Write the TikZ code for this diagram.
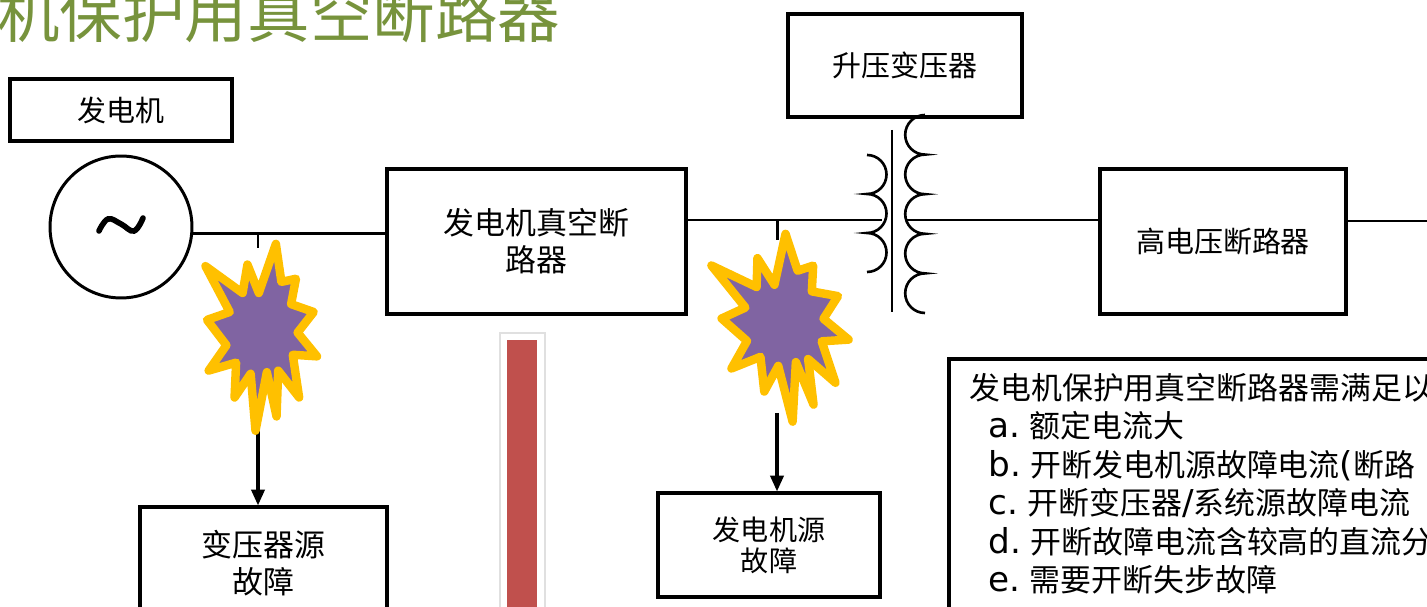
\documentclass[tikz,border=0pt]{standalone}
\usepackage{fontspec}
\setmainfont{DejaVu Sans}
\newfontfamily\cjk{Noto Sans CJK SC}
\newfontfamily\latinfont{DejaVu Sans}
\usetikzlibrary{arrows.meta}
\definecolor{titlegreen}{RGB}{119, 147, 60}
\definecolor{faultfill}{RGB}{128, 100, 162}
\definecolor{faultedge}{RGB}{255, 192, 0}
\definecolor{barred}{RGB}{192, 80, 77}
\newcommand{\lt}[1]{{\latinfont\fontsize{19.5}{21.9}\selectfont #1}}

\begin{document}
\begin{tikzpicture}[x=0.02cm, y=-0.02cm,
  box/.style={draw, line width=1.8pt, fill=white, inner sep=0pt, align=center, font=\cjk\fontsize{16.5}{21}\selectfont},
  bus/.style={line width=1.7pt},
  coil/.style={line width=1.5pt},
  arr/.style={line width=1.9pt, -{Triangle[length=9pt, width=7.5pt]}},
  fault/.style={fill=faultfill, draw=faultedge, line width=4.8pt, line join=round},
  burst/.pic={
    \draw[fault] (14.3,-91.7) -- (20,-51.7) -- (35,-55) -- (30,-28.3) -- (53.3,-20)
      -- (36.7,1.7) -- (56.7,26.7) -- (31.7,25) -- (38.3,70) -- (16.7,41.7) -- (15,90)
      -- (5,43.3) -- (-6.7,105) -- (-11.7,45) -- (-28.3,70) -- (-26.7,33.3) -- (-55,41.7)
      -- (-36.7,15) -- (-56.7,-11.7) -- (-33.3,-20) -- (-58.3,-68.3) -- (-20,-40)
      -- (-15,-70) -- (-3.3,-40) -- cycle;
  }]

  \useasboundingbox (0,0) rectangle (1427,607);
  \clip (0,0) rectangle (1427,607);

  % heading
  \node[anchor=base west, inner sep=0pt, text=titlegreen, font=\cjk\fontsize{35.6}{40}\selectfont] (title) at (-3,38) {机保护用真空断路器};

  % generator
  \node[box, minimum width=4.44cm, minimum height=1.24cm] (genlabel) at (121,110) {发电机};
  \node[circle, draw, line width=1.7pt, minimum size=2.84cm, inner sep=0pt] (gen) at (121,227) {};
  \draw[line width=3.2pt, line cap=round] plot[smooth, tension=0.7] coordinates {(99,231) (108,219) (121,224) (134,231) (143,218)};

  % breakers and step-up transformer
  \node[box, minimum width=5.98cm, minimum height=2.9cm, font=\cjk\fontsize{17.6}{21}\selectfont] (gcb) at (536.5,241.5) {发电机真空断\\路器};
  \node[box, minimum width=4.68cm, minimum height=2.06cm] (stepup) at (905,65.5) {升压变压器};
  \node[box, minimum width=4.92cm, minimum height=2.9cm] (hvcb) at (1223,241.5) {高电压断路器};

  % fault sources
  \node[box, minimum width=4.94cm, minimum height=2.24cm, font=\cjk\fontsize{17.6}{21}\selectfont] (tffault) at (263.5,563) {变压器源\\故障};
  \node[box, minimum width=4.44cm, minimum height=2.08cm, font=\cjk\fontsize{16}{17.6}\selectfont] (genfault) at (769,545) {发电机源\\故障};

  % bus
  \coordinate (prim) at (882,220);
  \coordinate (sec) at (905,220);
  \coordinate (feeder) at (1440,221);
  \draw[bus] (gen.-5) -- (gen.-5 -| gcb.west);
  \draw[bus] (gcb.east |- prim) -- (prim);
  \draw[bus] (sec) -- (sec -| hvcb.west);
  \draw[bus] (hvcb.east |- feeder) -- (feeder);

  % transformer windings
  \draw[coil] (867,155) arc(-90:90:19.5) arc(-90:90:19.5) arc(-90:90:19.5);
  \draw[coil] (892,130) -- (892,312);
  \draw[coil] (925,115) \foreach \k in {1,...,5}{ arc(-90:-270:19.8) };

  % fault taps
  \coordinate (tap1) at (258,233);
  \coordinate (f1) at (258,428);
  \coordinate (tap2) at (777,220);
  \coordinate (f2) at (777,413);
  \draw[bus] (tap1) -- ++(0,15);
  \draw[bus] (tap2) -- ++(0,20);
  \draw[arr] (f1) -- (f1 |- tffault.north);
  \draw[arr] (f2) -- (f2 |- genfault.north);

  \pic[xscale=0.97, yscale=0.95] (fault1) at (262,331) {burst};
  \pic[xscale=1.08, yscale=0.95, rotate=8] (fault2) at (784,322) {burst};

  % red bar
  \fill[white, draw=black!12, line width=1pt] (500,333) rectangle (545,620);
  \fill[barred] (507,340) rectangle (537,620);

  % requirements
  \draw[line width=1.8pt] (949,359) rectangle (1440,620);
  \node[anchor=north west, inner sep=0pt, align=left, font=\cjk\fontsize{17.6}{21.9}\selectfont] (req) at (969,373) {%
    发电机保护用真空断路器需满足以\\
    \hspace*{11pt}\lt{a.} 额定电流大\\
    \hspace*{11pt}\lt{b.} 开断发电机源故障电流\lt{(}断路\\
    \hspace*{11pt}\lt{c.} 开断变压器\lt{/}系统源故障电流\\
    \hspace*{11pt}\lt{d.} 开断故障电流含较高的直流分\\
    \hspace*{11pt}\lt{e.} 需要开断失步故障};
\end{tikzpicture}
\end{document}
